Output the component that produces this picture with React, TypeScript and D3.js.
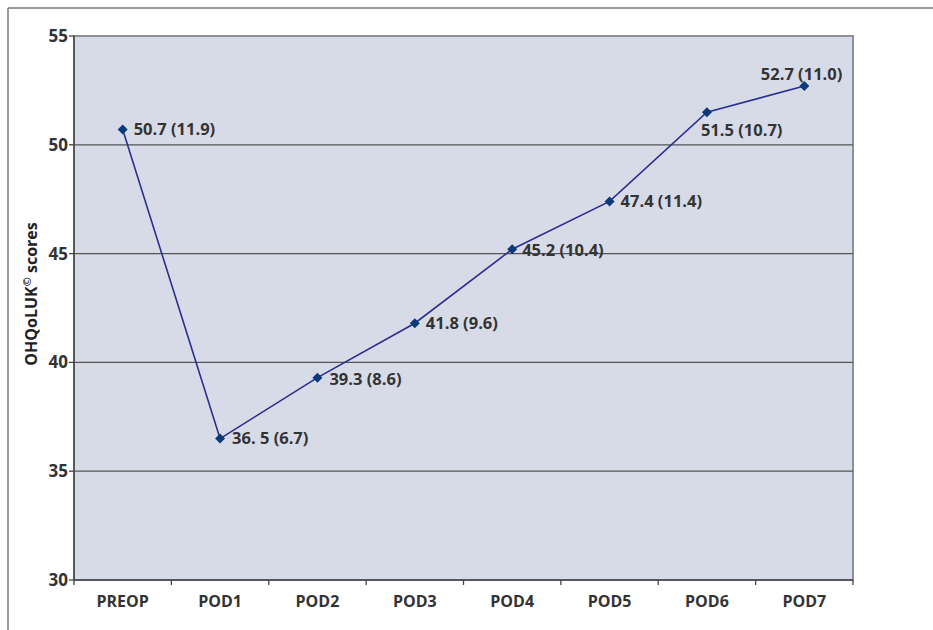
import React from "react";
import * as d3 from "d3";

const categories = ["PREOP", "POD1", "POD2", "POD3", "POD4", "POD5", "POD6", "POD7"];
const values = [50.7, 36.5, 39.3, 41.8, 45.2, 47.4, 51.5, 52.7];
const labels = ["50.7 (11.9)", "36. 5 (6.7)", "39.3 (8.6)", "41.8 (9.6)", "45.2 (10.4)", "47.4 (11.4)", "51.5 (10.7)", "52.7 (11.0)"];
const yTicks = [30, 35, 40, 45, 50, 55];
// label placement: dx, dy relative to point, anchor
const labelPos: [number, number, string][] = [
  [11, 0, "start"], [12, 0, "start"], [12, 2, "start"], [11, 0, "start"],
  [10, 1, "start"], [11, 0, "start"], [-6, 18, "start"], [38, -12, "end"],
];

export default function App() {
  const W = 933, H = 630;
  const left = 74, right = 853, top = 36, bottom = 580;
  const x = d3.scaleBand().domain(categories).range([left, right]);
  const y = d3.scaleLinear().domain([30, 55]).range([bottom, top]);
  const line = d3.line<number>().x((_, i) => x(categories[i])! + x.bandwidth() / 2).y((d) => y(d));
  const font = "'Open Sans', sans-serif";
  const r = 5;
  const diamond = `M0,${-r}L${r},0L0,${r}L${-r},0Z`;
  return (
    <svg width={W} height={H} style={{ position: "absolute", left: 0, top: 0, display: "block" }}>
      <rect x={0} y={0} width={W} height={H} fill="#fff" />
      <line x1={8} y1={8} x2={W} y2={8} stroke="#777" strokeWidth={1.5} />
      <line x1={8} y1={8} x2={8} y2={H} stroke="#777" strokeWidth={1.5} />
      <rect x={left} y={top} width={right - left} height={bottom - top} fill="#d7dbe8" stroke="#8c9199" strokeWidth={2} />
      {yTicks.slice(1, -1).map((t) => (
        <line key={t} x1={left} x2={right} y1={y(t)} y2={y(t)} stroke="#555" strokeWidth={1.3} />
      ))}
      <line x1={left} x2={left} y1={top} y2={bottom} stroke="#444" strokeWidth={1.5} />
      <line x1={left} x2={right} y1={bottom} y2={bottom} stroke="#444" strokeWidth={1.5} />
      {yTicks.map((t) => (
        <g key={t}>
          <line x1={left - 5} x2={left} y1={y(t)} y2={y(t)} stroke="#444" strokeWidth={1.3} />
          <text x={left - 6} y={y(t)} dy="0.35em" textAnchor="end" fontFamily={font} fontWeight="bold" fontSize={17} fill="#333">{t}</text>
        </g>
      ))}
      {categories.map((c, i) => (
        <g key={c}>
          <line x1={x(c)!} x2={x(c)!} y1={bottom} y2={bottom + 5} stroke="#444" strokeWidth={1.3} />
          {i === categories.length - 1 && (
            <line x1={right} x2={right} y1={bottom} y2={bottom + 5} stroke="#444" strokeWidth={1.3} />
          )}
          <text x={x(c)! + x.bandwidth() / 2} y={bottom + 27} textAnchor="middle" fontFamily={font} fontWeight="bold" fontSize={16} fill="#333">{c}</text>
        </g>
      ))}
      <text transform={`translate(37,${(top + bottom) / 2 - 14}) rotate(-90)`} textAnchor="middle" fontFamily={font} fontWeight="bold" fontSize={16} fill="#222">
        OHQoLUK<tspan fontSize={11} dy={-6}>©</tspan><tspan dy={6}> scores</tspan>
      </text>
      <path d={line(values)!} fill="none" stroke="#2a2f8e" strokeWidth={1.6} />
      {values.map((v, i) => {
        const cx = x(categories[i])! + x.bandwidth() / 2;
        const cy = y(v);
        const [dx, dy, anchor] = labelPos[i];
        return (
          <g key={i}>
            <path d={diamond} transform={`translate(${cx},${cy})`} fill="#0b3a78" />
            <text x={cx + dx} y={cy + dy} dy="0.35em" textAnchor={anchor} fontFamily={font} fontWeight="bold" fontSize={16.5} fill="#333">{labels[i]}</text>
          </g>
        );
      })}
    </svg>
  );
}
